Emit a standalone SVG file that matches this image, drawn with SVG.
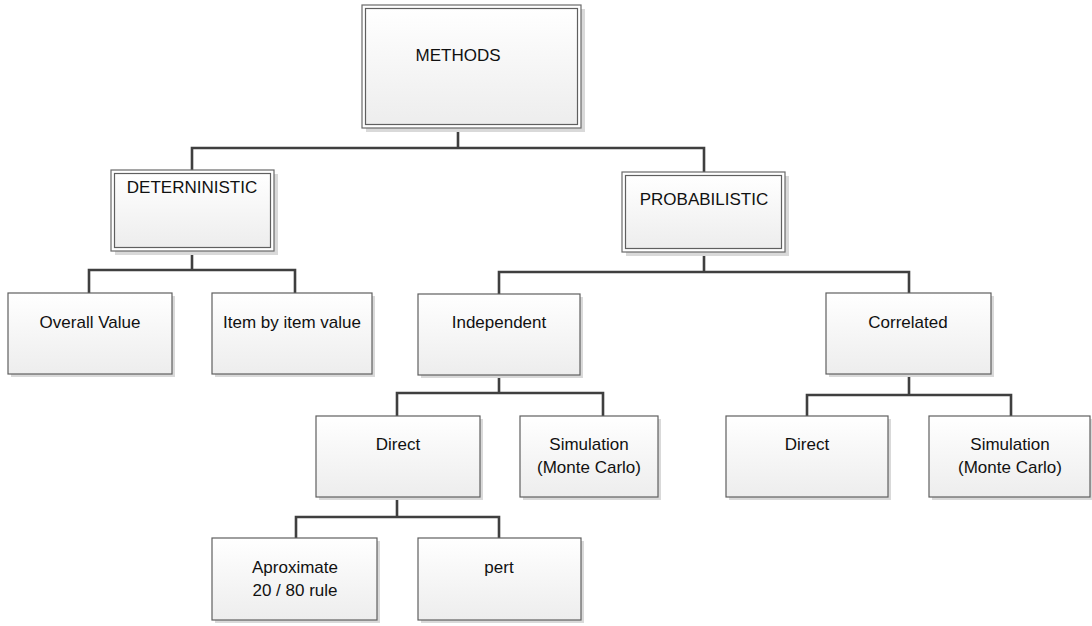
<svg xmlns="http://www.w3.org/2000/svg" width="1092" height="626" viewBox="0 0 1092 626">
  <defs>
    <linearGradient id="boxFill" x1="0" y1="0" x2="0" y2="1">
      <stop offset="0" stop-color="#ffffff"/>
      <stop offset="1" stop-color="#ededed"/>
    </linearGradient>
  </defs>
  <style>
    .shadow { fill: #d9d9d9; }
    .box { fill: url(#boxFill); stroke: #5f5f5f; stroke-width: 1.2; }
    .inner { fill: none; stroke: #5f5f5f; stroke-width: 1.2; }
    .outer { fill: #ffffff; stroke: #6a6a6a; stroke-width: 1.2; }
    .lbl { font-family: "Liberation Sans", Arial, sans-serif; font-size: 17px; fill: #111111; text-anchor: middle; }
    .conn { fill: none; stroke: #3f3f3f; stroke-width: 2.6; stroke-linejoin: miter; }
  </style>

  <!-- tree connectors -->
  <g id="connectors">
    <path class="conn" d="M458,128 V148 M192,170 V148 H704 V172"/>
    <path class="conn" d="M192,251 V270 M89,293 V270 H295 V293"/>
    <path class="conn" d="M704,252 V272 M499,294 V272 H909 V293"/>
    <path class="conn" d="M499,375 V393 M397,416 V393 H603 V416"/>
    <path class="conn" d="M909,374 V395 M807,416 V395 H1011 V416"/>
    <path class="conn" d="M397,497 V517 M296,538 V517 H499 V538"/>
  </g>

  <!-- root -->
  <g id="methods">
    <rect class="shadow" x="366" y="9" width="219" height="123"/>
    <rect class="outer" x="362" y="5" width="219" height="123"/>
    <rect class="box" x="365.5" y="8.5" width="212" height="116"/>
    <text class="lbl" x="458" y="61">METHODS</text>
  </g>

  <g id="deterministic">
    <rect class="shadow" x="115" y="174" width="163" height="81"/>
    <rect class="outer" x="111" y="170" width="163" height="81"/>
    <rect class="box" x="114.5" y="173.5" width="156" height="74"/>
    <text class="lbl" x="192" y="193">DETERNINISTIC</text>
  </g>

  <g id="probabilistic">
    <rect class="shadow" x="626" y="176" width="163" height="80"/>
    <rect class="outer" x="622" y="172" width="163" height="80"/>
    <rect class="box" x="625.5" y="175.5" width="156" height="73"/>
    <text class="lbl" x="704" y="205">PROBABILISTIC</text>
  </g>

  <g id="overall-value">
    <rect class="shadow" x="11" y="296" width="164" height="81"/>
    <rect class="box" x="8" y="293" width="164" height="81"/>
    <text class="lbl" x="90" y="328">Overall Value</text>
  </g>

  <g id="item-by-item">
    <rect class="shadow" x="215" y="296" width="160" height="81"/>
    <rect class="box" x="212" y="293" width="160" height="81"/>
    <text class="lbl" x="292" y="328">Item by item value</text>
  </g>

  <g id="independent">
    <rect class="shadow" x="421" y="297" width="162" height="81"/>
    <rect class="box" x="418" y="294" width="162" height="81"/>
    <text class="lbl" x="499" y="328">Independent</text>
  </g>

  <g id="correlated">
    <rect class="shadow" x="829" y="296" width="165" height="81"/>
    <rect class="box" x="826" y="293" width="165" height="81"/>
    <text class="lbl" x="908" y="328">Correlated</text>
  </g>

  <g id="independent-direct">
    <rect class="shadow" x="319" y="419" width="164" height="81"/>
    <rect class="box" x="316" y="416" width="164" height="81"/>
    <text class="lbl" x="398" y="450">Direct</text>
  </g>

  <g id="independent-simulation">
    <rect class="shadow" x="523" y="419" width="138" height="81"/>
    <rect class="box" x="520" y="416" width="138" height="81"/>
    <text class="lbl" x="589" y="450">Simulation</text>
    <text class="lbl" x="589" y="473">(Monte Carlo)</text>
  </g>

  <g id="correlated-direct">
    <rect class="shadow" x="729" y="419" width="162" height="81"/>
    <rect class="box" x="726" y="416" width="162" height="81"/>
    <text class="lbl" x="807" y="450">Direct</text>
  </g>

  <g id="correlated-simulation">
    <rect class="shadow" x="932" y="419" width="160" height="81"/>
    <rect class="box" x="929" y="416" width="161" height="81"/>
    <text class="lbl" x="1010" y="450">Simulation</text>
    <text class="lbl" x="1010" y="473">(Monte Carlo)</text>
  </g>

  <g id="approximate">
    <rect class="shadow" x="215" y="541" width="165" height="82"/>
    <rect class="box" x="212" y="538" width="165" height="82"/>
    <text class="lbl" x="295" y="573">Aproximate</text>
    <text class="lbl" x="295" y="596">20 / 80 rule</text>
  </g>

  <g id="pert">
    <rect class="shadow" x="421" y="541" width="163" height="82"/>
    <rect class="box" x="418" y="538" width="163" height="82"/>
    <text class="lbl" x="499" y="573">pert</text>
  </g>
</svg>
